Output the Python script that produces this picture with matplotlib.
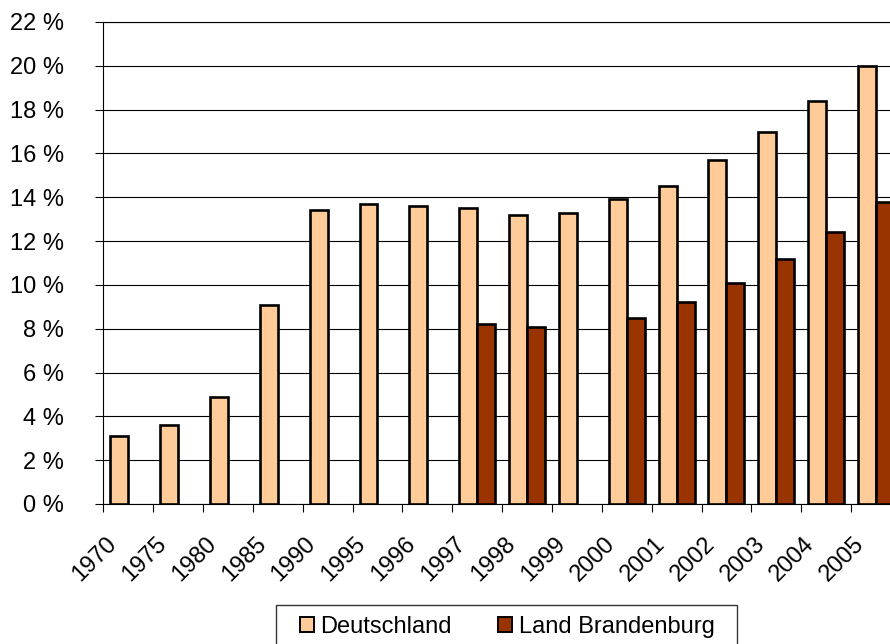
import numpy as np
import matplotlib
matplotlib.use("Agg")
import matplotlib.pyplot as plt
from matplotlib.patches import Patch, Rectangle
from matplotlib.transforms import ScaledTranslation, blended_transform_factory

plt.rcParams['font.family'] = ['Liberation Sans', 'DejaVu Sans']

years = ["1970", "1975", "1980", "1985", "1990", "1995", "1996", "1997",
         "1998", "1999", "2000", "2001", "2002", "2003", "2004", "2005"]
deutschland = [3.1, 3.6, 4.9, 9.1, 13.4, 13.7, 13.6, 13.5,
               13.2, 13.3, 13.9, 14.5, 15.7, 17.0, 18.4, 20.0]
brandenburg = [np.nan, np.nan, np.nan, np.nan, np.nan, np.nan, np.nan, 8.2,
               8.1, np.nan, 8.5, 9.2, 10.1, 11.2, 12.4, 13.8]
y_ticks = list(range(0, 23, 2))

W, H = 890, 644
FS = 17
fig = plt.figure(figsize=(W / 100, H / 100), dpi=100)
ax = fig.add_axes([103.3 / W, (H - 504) / H, 797.6 / W, 482 / H])

c_de = "#FFCC99"
c_bb = "#993300"
bw = 0.36
x = np.arange(len(years))
ax.bar(x - bw / 2, deutschland, width=bw, color=c_de, edgecolor="black",
       linewidth=1.9, zorder=3)
ax.bar(x + bw / 2, brandenburg, width=bw, color=c_bb, edgecolor="black",
       linewidth=1.9, zorder=3)

ax.set_xlim(-0.5, len(years) - 0.5)
ax.set_ylim(0, 22)
ax.set_yticks(y_ticks)
ax.set_yticklabels([f"{v} %" for v in y_ticks], fontsize=FS)
ax.yaxis.grid(True, color="black", linewidth=0.8, zorder=0)
ax.set_xticks(np.arange(len(years) + 1) - 0.5)
ax.set_xticklabels([])
ax.tick_params(axis="both", direction="out", length=5.5, width=0.8,
               color="black")
ax.tick_params(axis="y", pad=23)
ax.spines["right"].set_visible(False)
for side in ("left", "bottom", "top"):
    ax.spines[side].set_color("black")
    ax.spines[side].set_linewidth(0.8)

# rotated year labels below the axis
trans = blended_transform_factory(ax.transData, ax.transAxes)
shift = ScaledTranslation(-15 / 100, -37 / 100, fig.dpi_scale_trans)
for i, yr in enumerate(years):
    ax.text(i, 0, yr, transform=trans + shift, rotation=45,
            rotation_mode="anchor", ha="right", va="center", fontsize=FS)

# legend box
fig.patches.append(Rectangle((276 / W, (H - 660) / H), 461 / W, 55 / H,
                             transform=fig.transFigure, facecolor="white",
                             edgecolor="#333333", linewidth=1.0))
handles = [Patch(facecolor=c_de, edgecolor="black", linewidth=1.4),
           Patch(facecolor=c_bb, edgecolor="black", linewidth=1.4)]
fig.legend(handles, ["Deutschland", "Land Brandenburg"], loc="center left",
           bbox_to_anchor=(300 / W, (H - 627) / H), ncol=2, frameon=False,
           fontsize=FS, handlelength=0.6, handleheight=0.6,
           handletextpad=0.27, columnspacing=1.95, borderpad=0,
           borderaxespad=0)

fig.savefig("out.png", dpi=100)
